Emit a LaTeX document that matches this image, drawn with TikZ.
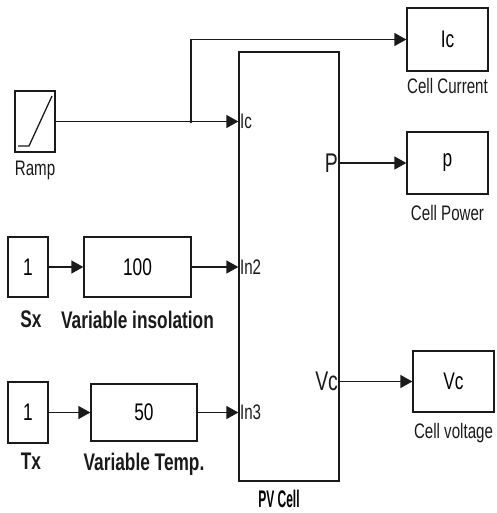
\documentclass[tikz,border=0pt]{standalone}
\usepackage{fontspec}
\newfontfamily\simFont[FakeStretch=0.72]{Liberation Sans}
\newfontfamily\tightFont[FakeStretch=0.5]{Liberation Sans}
\definecolor{wireDark}{HTML}{1A1A1A}
\usepackage{tikz}
\usetikzlibrary{calc, positioning, arrows.meta}
\newcommand{\txtSmall}{\simFont\fontsize{21}{21}\selectfont}
\newcommand{\txtBlock}{\simFont\fontsize{24}{24}\selectfont}
\newcommand{\txtBold}{\simFont\bfseries\fontsize{24}{24}\selectfont}
\newcommand{\txtPortIn}{\simFont\fontsize{21}{21}\selectfont}
\newcommand{\txtPortOut}{\simFont\fontsize{27}{27}\selectfont}

\begin{document}
\begin{tikzpicture}[x=1pt, y=-1pt,
    blockBox/.style={draw=wireDark, line width=1.3pt, inner sep=0pt, font=\txtBlock},
    sigWire/.style={draw=wireDark, line width=1.3pt, -{Triangle[length=12pt,width=13pt]}},
    nameLabel/.style={inner sep=0pt, font=\txtSmall, text=wireDark},
    boldLabel/.style={inner sep=0pt, font=\txtBold, text=wireDark},
    portLabel/.style={inner sep=1.5pt, text=wireDark}]
  \useasboundingbox (0,0) rectangle (496,513);

  \node[blockBox, minimum width=40pt, minimum height=61pt] (ramp) at (35,121.5) {};
  \draw[wireDark, line width=1.3pt] ($(ramp.center)+(-17,24.5)$) -- ($(ramp.center)+(-6,24.5)$) -- ($(ramp.center)+(17,-25.5)$);
  \node[nameLabel, below=8pt of ramp] (rampName) {Ramp};

  \node[blockBox, minimum width=40pt, minimum height=60pt] (sx) at (28,267) {1};
  \node[blockBox, minimum width=107pt, minimum height=60pt] (ins) at (137.5,267) {100};
  \node[boldLabel, below=13pt of sx, xshift=3pt] (sxName) {Sx};
  \node[boldLabel, below=13pt of ins] (insName) {Variable insolation};

  \node[blockBox, minimum width=40pt, minimum height=61pt] (tx) at (28,412.5) {1};
  \node[blockBox, minimum width=106pt, minimum height=57pt] (temp) at (144,412.5) {50};
  \node[boldLabel, below=9pt of tx, xshift=3pt] (txName) {Tx};
  \node[boldLabel, below=11pt of temp] (tempName) {Variable Temp.};

  \node[blockBox, minimum width=100pt, minimum height=429pt] (pv) at (289,266.5) {};
  \node[inner sep=0pt, font=\tightFont\bfseries\fontsize{24}{24}\selectfont, below=8pt of pv, xshift=-10pt] (pvName) {PV Cell};

  \node[blockBox, minimum width=81pt, minimum height=63pt] (ic) at (447.5,39.5) {Ic};
  \node[nameLabel, below=6pt of ic] (icName) {Cell Current};
  \node[blockBox, minimum width=81pt, minimum height=62pt] (pw) at (447.5,163) {p};
  \node[nameLabel, below=10pt of pw] (pwName) {Cell Power};
  \node[blockBox, minimum width=81pt, minimum height=61pt] (vc) at (453.5,381.5) {Vc};
  \node[nameLabel, below=10pt of vc] (vcName) {Cell voltage};

  \node[portLabel, font=\txtPortIn, anchor=west] (pIc) at (ramp.east -| pv.west) {Ic};
  \node[portLabel, font=\txtPortIn, anchor=west] (pIn2) at (ins.east -| pv.west) {In2};
  \node[portLabel, font=\txtPortIn, anchor=west] (pIn3) at (temp.east -| pv.west) {In3};
  \node[portLabel, font=\txtPortOut, anchor=east] (pP) at (pw.west -| pv.east) {P};
  \node[portLabel, font=\txtPortOut, anchor=east] (pVc) at (vc.west -| pv.east) {Vc};

  \coordinate (jn) at (191,121.5);
  \draw[sigWire] (ramp.east) -- (ramp.east -| pv.west);
  \draw[sigWire] (jn) |- (ic.west);
  \fill[wireDark] (jn) circle (1.8pt);
  \draw[sigWire] (sx) -- (ins);
  \draw[sigWire] (ins.east) -- (ins.east -| pv.west);
  \draw[sigWire] (tx) -- (temp);
  \draw[sigWire] (temp.east) -- (temp.east -| pv.west);
  \draw[sigWire] (pw.west -| pv.east) -- (pw.west);
  \draw[sigWire] (vc.west -| pv.east) -- (vc.west);
\end{tikzpicture}
\end{document}
